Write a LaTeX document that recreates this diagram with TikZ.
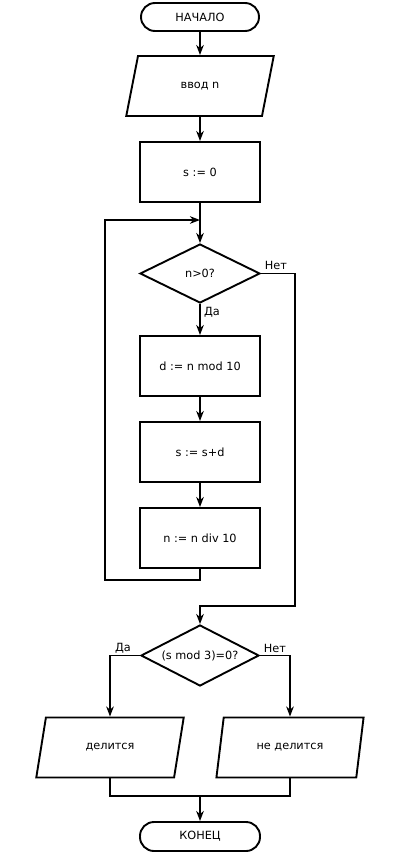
\documentclass[tikz,border=0pt]{standalone}
\usepackage{fontspec}
\setmainfont{DejaVu Sans}
\usetikzlibrary{shapes.geometric,arrows.meta}
\begin{document}
\begin{tikzpicture}[x=1pt,y=-1pt,
  every node/.style={font=\fontsize{11.3}{13}\selectfont},
  base/.style={draw, line width=1.9pt, inner sep=0pt},
  term/.style={base, rectangle, rounded corners=14pt, minimum width=118pt, minimum height=28pt},
  proc/.style={base, rectangle, minimum width=120pt, minimum height=60pt},
  io/.style={base, trapezium, trapezium left angle=65, trapezium right angle=115, trapezium stretches=true, minimum width=148pt, minimum height=60pt},
  cond/.style={base, diamond, minimum width=120pt, minimum height=59pt},
  lab/.style={inner sep=0pt},
  arr/.style={line width=1.9pt, -{Stealth[length=10pt,width=7.5pt,inset=3pt]}},
  ln/.style={line width=1.9pt}]
\useasboundingbox (0,0) rectangle (400,854);
\node[term] (start) at (200,17) {НАЧАЛО};
\node[io] (in) at (200,86) {ввод n};
\node[proc] (s0) at (200,172) {s := 0};
\node[cond] (c1) at (200,273.5) {\makebox[0pt]{n>0?}};
\node[proc] (d) at (200,366) {d := n mod 10};
\node[proc] (s) at (200,452) {s := s+d};
\node[proc] (nn) at (200,538) {n := n div 10};
\node[cond, minimum width=118pt, minimum height=61pt] (c2) at (200,655.5) {\makebox[0pt]{(s mod 3)=0?}};
\node[io] (yes) at (110,747.5) {делится};
\node[io] (no) at (290,747.5) {не делится};
\node[term, minimum width=120pt, minimum height=29pt] (end) at (200,836.5) {КОНЕЦ};
\coordinate (j1) at (200,220);
\coordinate (l1) at (105,580);
\coordinate (r1) at (295,606);
\coordinate (j2) at (200,796);
\node[lab] (net1) at (276,265) {Нет};
\node[lab] (da1) at (212,312) {Да};
\node[lab] (da2) at (123,648) {Да};
\node[lab] (net2) at (275,648) {Нет};
\draw[arr] (start) -- (in);
\draw[arr] (in) -- (s0);
\draw[arr] (s0) -- (c1);
\draw[arr] (c1) -- (d);
\draw[arr] (d) -- (s);
\draw[arr] (s) -- (nn);
\draw[arr] (nn.south) |- (l1) |- (j1);
\draw[arr] (c1.east) -| (r1) -| (c2.north);
\draw[arr] (c2.west) -| (yes);
\draw[arr] (c2.east) -| (no);
\draw[ln] (yes) |- (j2);
\draw[ln] (no) |- (j2);
\draw[arr] (j2) -- (end);
\end{tikzpicture}
\end{document}
